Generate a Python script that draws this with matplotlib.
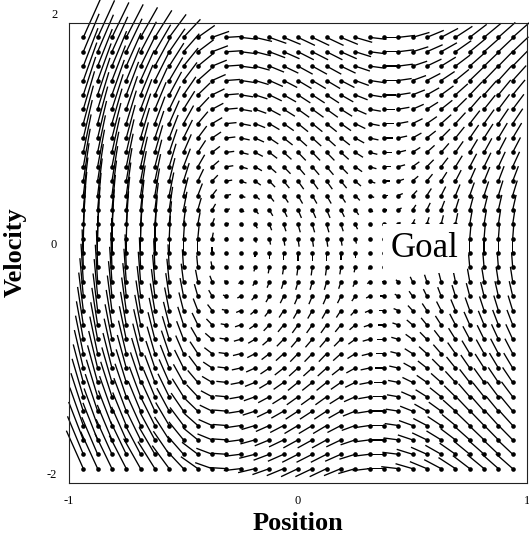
import numpy as np
import matplotlib
matplotlib.use('Agg')
import matplotlib.pyplot as plt
from matplotlib.transforms import ScaledTranslation

plt.rcParams['font.family'] = ['Liberation Serif', 'DejaVu Serif']

# grid of sampled states
position = np.linspace(-0.9375, 0.9375, 31)
velocity = np.linspace(1.875, -1.875, 31)

# horizontal step of each row (top row first), in position units
drift = [0.074, 0.069, 0.064, 0.059, 0.054, 0.049, 0.044, 0.039, 0.034, 0.030,
         0.025, 0.020, 0.015, 0.010, 0.005, 0.0, -0.005, -0.010, -0.015, -0.020,
         -0.025, -0.030, -0.034, -0.039, -0.044, -0.049, -0.054, -0.059, -0.064,
         -0.069, -0.074]

# vertical step of each column (left column first), in velocity units
accel = [0.330, 0.322, 0.304, 0.287, 0.261, 0.235, 0.200, 0.157, 0.104, 0.052,
         0.009, -0.017, -0.035, -0.052, -0.061, -0.070, -0.070, -0.070, -0.061,
         -0.043, -0.017, 0.0, 0.017, 0.043, 0.061, 0.078, 0.096, 0.113, 0.122,
         0.130, 0.130]

X, V = np.meshgrid(position, velocity)
U = np.tile(np.array(drift)[:, None], (1, len(position)))
W = np.tile(np.array(accel)[None, :], (len(velocity), 1))

fig = plt.figure(figsize=(5.29, 5.42), dpi=100)
ax = fig.add_axes([69 / 529, 59 / 542, 458 / 529, 460 / 542])

q = ax.quiver(X, V, U, W, angles='xy', scale_units='xy', scale=1, pivot='tail',
              width=0.0029, headwidth=0, headlength=0, headaxislength=0,
              color='black', zorder=2)
q.set_clip_on(False)
ax.scatter(X.ravel(), V.ravel(), s=11, color='black', zorder=3, clip_on=False,
           linewidths=0)

ax.text(0.406, -0.035, 'Goal', fontsize=25, ha='left', va='baseline', zorder=5,
        bbox=dict(facecolor='white', edgecolor='none', pad=6))

ax.set_xlim(-1, 1)
ax.set_ylim(-2, 2)
ax.set_xticks([-1, 0, 1])
ax.set_xticklabels(['-1', '0', '1'])
ax.set_yticks([-2, 0, 2])
ax.set_yticklabels(['-2', '0', '2'])
ax.tick_params(length=0, labelsize=9, pad=8.5)
for lab in ax.get_yticklabels():
    lab.set_transform(lab.get_transform() + ScaledTranslation(0, 7 / 72, fig.dpi_scale_trans))
for sp in ax.spines.values():
    sp.set_linewidth(0.8)
    sp.set_color('#222222')

fig.text(15 / 529, 1 - 252 / 542, 'Velocity', rotation=90, fontsize=19,
         fontweight='bold', ha='center', va='center')
fig.text(298 / 529, 1 - 524 / 542, 'Position', fontsize=19, fontweight='bold',
         ha='center', va='center')

fig.savefig('out.png', dpi=100)
